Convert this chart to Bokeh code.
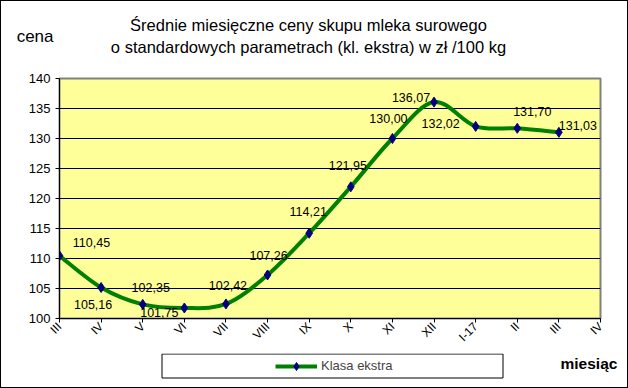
import math
from bokeh.plotting import figure
from bokeh.layouts import column
from bokeh.models import (Range1d, FixedTicker, LabelSet, ColumnDataSource,
                          Legend, LegendItem, LinearAxis)
from bokeh.core.properties import value
from bokeh.embed import file_html
from bokeh.resources import INLINE

# ---- data ----
months = ["III", "IV", "V", "VI", "VII", "VIII", "IX", "X", "XI", "XII", "I-17", "II", "III", "IV"]
prices = [110.45, 105.16, 102.35, 101.75, 102.42, 107.26, 114.21, 121.95, 130.00, 136.07, 132.02, 131.70, 131.03]
y_ticks = [100, 105, 110, 115, 120, 125, 130, 135, 140]
series_name = "Klasa ekstra"
title_lines = ["Średnie miesięczne ceny skupu mleka surowego",
               "o standardowych parametrach (kl. ekstra) w zł /100 kg"]
y_title = "cena"
x_title = "miesiąc"

# ---- label placement (screen px offsets, style only) ----
lab_dx = [32, -8, 8, -25, 2, 1, -1, -3, -4, -23, -35, 15, 19]
lab_dy = [13, -17, 17, -4, 18, 19, 22, 21, 20, 5, 3, 17, 7]

FONT = "Liberation Sans"
W = 628
FL, FR = 59, 600  # plot frame left / right (page px)


def strip(h, y0):
    f = figure(width=W, height=h, output_backend="svg", toolbar_location=None,
               x_range=Range1d(FL, FR), y_range=Range1d(y0 + h, y0),
               x_axis_location=None, y_axis_location=None,
               min_border=0, min_border_left=0, min_border_right=0,
               min_border_top=0, min_border_bottom=0)
    f.grid.visible = False
    f.outline_line_color = None
    f.background_fill_alpha = 0
    f.border_fill_alpha = 0
    return f


def text_axis(ypos, txt, size, standoff, style="normal"):
    ax = LinearAxis(ticker=FixedTicker(ticks=[ypos]),
                    major_label_overrides={ypos: txt},
                    major_label_standoff=standoff,
                    major_tick_in=0, major_tick_out=0,
                    major_tick_line_color=None, minor_tick_line_color=None,
                    axis_line_color=None,
                    major_label_text_font=FONT, major_label_text_font_size=size,
                    major_label_text_font_style=style, major_label_text_color="black")
    return ax


# ---------- top strip: titles ----------
top = strip(70, 0)
top.text(x=[308, 308], y=[24, 46], text=title_lines, text_align="center",
         text_baseline="middle", text_font=value(FONT), text_font_size="16.5px",
         text_color="black")
top.add_layout(text_axis(36, y_title, "17px", 6), "left")

# ---------- main chart ----------
p = figure(width=W, height=283, output_backend="svg", toolbar_location=None,
           x_range=Range1d(0, 13), y_range=Range1d(100, 140),
           min_border_left=FL, min_border_right=W - FR, min_border_top=8, min_border_bottom=35)
p.background_fill_color = "#FFFF99"
p.border_fill_alpha = 0
p.outline_line_color = "#808080"
p.outline_line_width = 2

p.xgrid.visible = False
p.ygrid.ticker = FixedTicker(ticks=y_ticks)
p.ygrid.grid_line_color = "black"
p.ygrid.grid_line_width = 1

p.yaxis.ticker = FixedTicker(ticks=y_ticks)
p.yaxis.minor_tick_line_color = None
p.yaxis.major_tick_in = 0
p.yaxis.major_tick_out = 4
p.yaxis.major_label_standoff = 5
p.yaxis.major_label_text_font = FONT
p.yaxis.major_label_text_font_size = "13px"
p.yaxis.major_label_text_color = "black"
p.yaxis.axis_line_color = "black"

n = len(prices)
idx = list(range(n))
p.xaxis.ticker = FixedTicker(ticks=list(range(len(months))))
p.xaxis.major_label_overrides = {i: m for i, m in enumerate(months)}
p.xaxis.major_label_orientation = math.pi / 4
p.xaxis.minor_tick_line_color = None
p.xaxis.major_tick_in = 0
p.xaxis.major_tick_out = 4
p.xaxis.major_label_standoff = 2
p.xaxis.major_label_text_font = FONT
p.xaxis.major_label_text_font_size = "12px"
p.xaxis.major_label_text_color = "black"
p.xaxis.axis_line_color = "black"

# smoothed line (Catmull-Rom style bezier through the data points)
pts = list(zip(idx, prices))
x0, y0, x1, y1, cx0, cy0, cx1, cy1 = [], [], [], [], [], [], [], []
for i in range(n - 1):
    pm, pa, pb, pn = pts[max(i - 1, 0)], pts[i], pts[i + 1], pts[min(i + 2, n - 1)]
    x0.append(pa[0]); y0.append(pa[1]); x1.append(pb[0]); y1.append(pb[1])
    cx0.append(pa[0] + (pb[0] - pm[0]) / 6.0); cy0.append(pa[1] + (pb[1] - pm[1]) / 6.0)
    cx1.append(pb[0] - (pn[0] - pa[0]) / 6.0); cy1.append(pb[1] - (pn[1] - pa[1]) / 6.0)
p.bezier(x0=x0, y0=y0, x1=x1, y1=y1, cx0=cx0, cy0=cy0, cx1=cx1, cy1=cy1,
         line_color="#008000", line_width=4, line_cap="round")
p.scatter(idx, prices, marker="diamond", size=10, fill_color="#000080", line_color="#000080")

src = ColumnDataSource(dict(x=idx, y=prices,
                            t=[f"{v:.2f}".replace(".", ",") for v in prices],
                            dx=lab_dx, dy=lab_dy))
p.add_layout(LabelSet(x="x", y="y", text="t", source=src, x_offset="dx", y_offset="dy",
                      text_align="center", text_baseline="middle",
                      text_font=value(FONT), text_font_size="12.5px", text_color="black"))

# ---------- bottom strip: legend + axis title ----------
bot = strip(35, 353)
bot.quad(left=[161.5], right=[502.5], top=[353.5], bottom=[377.5],
         fill_color="white", line_color="black", line_width=1)
proxy_line = bot.line(x=[0, 1], y=[300, 300], line_color="#008000", line_width=4)
proxy_mark = bot.scatter(x=[0], y=[300], marker="diamond", size=10,
                         fill_color="#000080", line_color="#000080")
leg = Legend(items=[LegendItem(label=series_name, renderers=[proxy_line, proxy_mark])],
             location=(216, 12.5), padding=0, spacing=0, margin=0,
             glyph_width=42, glyph_height=20, label_height=20, label_standoff=4,
             label_text_font=FONT, label_text_font_size="13px",
             border_line_alpha=0, background_fill_alpha=0)
bot.add_layout(leg)
bot.add_layout(text_axis(363, x_title, "15.5px", -40, style="bold"), "right")

layout = column(top, p, bot, spacing=0,
                styles={"box-shadow": "inset 0 0 0 1px black", "background": "white"})

open("out.html", "w").write(file_html(layout, INLINE))
